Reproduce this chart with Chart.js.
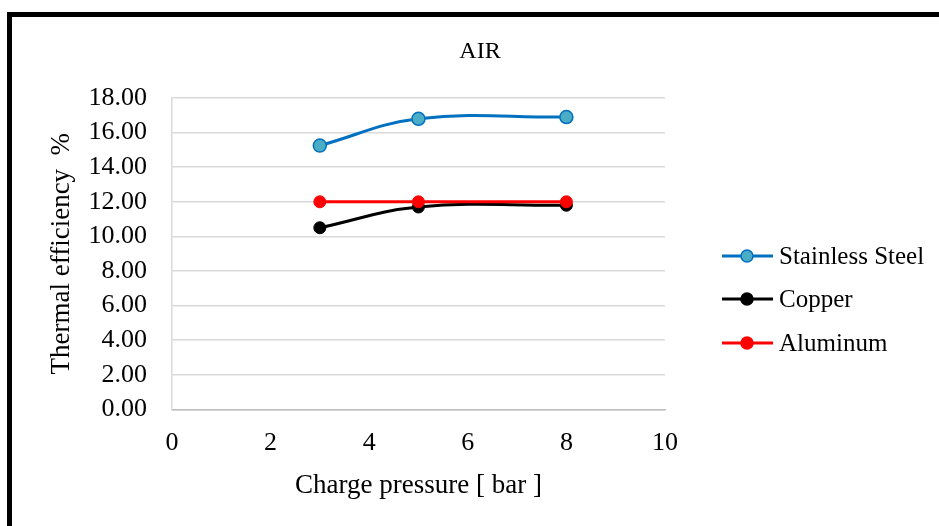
<!DOCTYPE html>
<html><head><meta charset="utf-8">
<script src="https://cdn.jsdelivr.net/npm/chart.js@4"></script>
<style>
html,body{margin:0;padding:0;background:#fff;}
#wrap{position:relative;width:939px;height:526px;overflow:hidden;}
#frame{position:absolute;left:7px;top:12px;width:940px;height:520px;border-left:5px solid #000;border-top:5px solid #000;box-sizing:border-box;pointer-events:none;}
canvas{position:absolute;left:0;top:0;}
</style></head>
<body>
<div id="wrap"><canvas id="c" width="939" height="526"></canvas><div id="frame"></div></div>
<script>
const pressures = [3, 5, 8];
const stainlessSteel = [15.25, 16.8, 16.9];
const copper = [10.5, 11.7, 11.8];
const aluminum = [12.0, 12.0, 12.0];
const seriesNames = ['Stainless Steel', 'Copper', 'Aluminum'];
const titleText = 'AIR';
const xTitle = 'Charge pressure [ bar ]';
const yTitle = 'Thermal efficiency  %';

const FONT = "'Liberation Serif', serif";
const toPts = arr => arr.map((v, i) => ({x: pressures[i], y: v}));

const legendPlugin = {
  id: 'sideLegend',
  afterDraw(chart) {
    const ctx = chart.ctx;
    ctx.save();
    ctx.fillStyle = '#000';
    ctx.font = "24px " + FONT;
    ctx.textAlign = 'center';
    ctx.textBaseline = 'middle';
    ctx.fillText(titleText, 480, 52);
    ctx.restore();
    const ys = [256, 299, 343];
    chart.data.datasets.forEach((ds, i) => {
      const y = ys[i];
      ctx.save();
      ctx.strokeStyle = ds.borderColor;
      ctx.lineWidth = 3;
      ctx.beginPath(); ctx.moveTo(722, y); ctx.lineTo(773, y); ctx.stroke();
      ctx.beginPath(); ctx.arc(747, y, 6, 0, Math.PI * 2);
      ctx.fillStyle = ds.pointBackgroundColor; ctx.fill();
      ctx.lineWidth = 1.5; ctx.strokeStyle = ds.pointBorderColor; ctx.stroke();
      ctx.fillStyle = '#000';
      ctx.font = "25px " + FONT;
      ctx.textBaseline = 'middle';
      ctx.fillText(ds.label, 779, y + 1);
      ctx.restore();
    });
  }
};

new Chart(document.getElementById('c'), {
  type: 'line',
  data: {
    datasets: [
      {label: seriesNames[0], data: toPts(stainlessSteel), borderColor: '#0070c0', borderWidth: 3, order: 0,
       pointBackgroundColor: '#4bacc6', pointBorderColor: '#0070c0', pointBorderWidth: 1.5, pointRadius: 6.5, tension: 0.4},
      {label: seriesNames[1], data: toPts(copper), borderColor: '#000000', borderWidth: 3, order: 2,
       pointBackgroundColor: '#000000', pointBorderColor: '#000000', pointBorderWidth: 1, pointRadius: 6, tension: 0.4},
      {label: seriesNames[2], data: toPts(aluminum), borderColor: '#ff0000', borderWidth: 3, order: 1,
       pointBackgroundColor: '#ff0000', pointBorderColor: '#ff0000', pointBorderWidth: 1, pointRadius: 6, tension: 0.4}
    ]
  },
  options: {
    responsive: false, animation: false, devicePixelRatio: 1,
    layout: {padding: {left: 46, right: 274, top: 98, bottom: 24}},
    plugins: {
      legend: {display: false},
      tooltip: {enabled: false},
      title: {display: false}
    },
    scales: {
      x: {type: 'linear', min: 0, max: 10,
        ticks: {stepSize: 2, autoSkip: false, color: '#000', font: {family: FONT, size: 26}, padding: 18},
        grid: {display: false, drawTicks: false},
        border: {display: true, color: '#bfbfbf', width: 1.5},
        title: {display: true, text: xTitle, color: '#000', font: {family: FONT, size: 27}, padding: {top: -7, bottom: 0}}},
      y: {min: 0, max: 18,
        ticks: {stepSize: 2, autoSkip: false, color: '#000', font: {family: FONT, size: 26}, padding: 25, callback: v => v.toFixed(2)},
        grid: {color: '#d9d9d9', lineWidth: 1.5, drawTicks: false},
        border: {display: true, color: '#d9d9d9', width: 1.5},
        title: {display: true, text: yTitle, color: '#000', font: {family: FONT, size: 27}, padding: {top: 0, bottom: -15}}}
    }
  },
  plugins: [legendPlugin]
});
</script>
</body></html>
